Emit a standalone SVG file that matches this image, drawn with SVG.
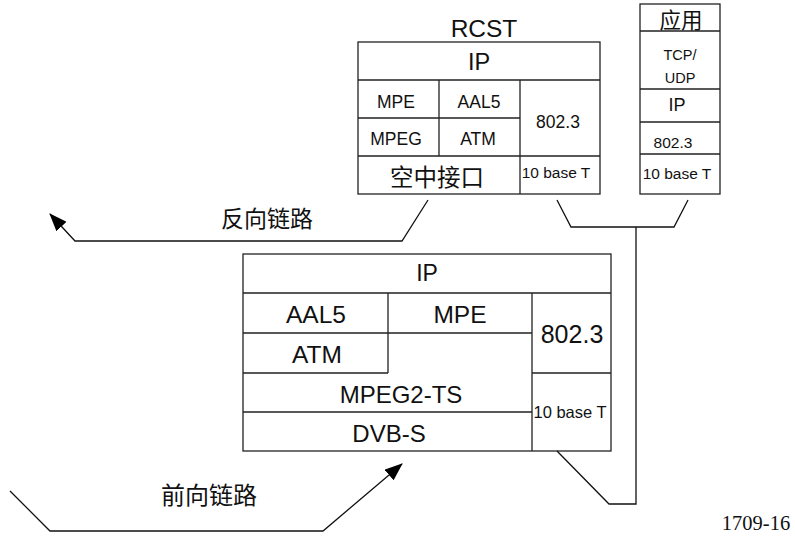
<svg xmlns="http://www.w3.org/2000/svg" width="795" height="538" viewBox="0 0 795 538">
<defs>
<style>
.b{fill:#fff;stroke:#222;stroke-width:1.3}
.l{fill:none;stroke:#222;stroke-width:1.3}
.c{fill:none;stroke:#111;stroke-width:1.3}
text{font-family:"Liberation Sans",Arial,sans-serif;fill:#111;text-anchor:middle;dominant-baseline:central}
.cjk{font-family:"Noto Sans CJK SC",sans-serif}
.ser{font-family:"Liberation Serif","Times New Roman",serif}
</style>
<marker id="ah" viewBox="0 0 18 14" refX="17" refY="7" markerWidth="18" markerHeight="14" markerUnits="userSpaceOnUse" orient="auto">
<path d="M0,0 L18,7 L0,14 z" fill="#000"/>
</marker>
</defs>
<rect width="795" height="538" fill="#fff"/>

<g id="rcst">
<text x="484" y="28" font-size="24.5">RCST</text>
<rect class="b" x="358" y="42" width="242" height="152"/>
<path class="l" d="M358,80 H600 M358,118 H520 M358,156 H600 M439,80 V156 M520,80 V194"/>
<text x="479" y="62" font-size="23.5">IP</text>
<text x="396" y="102" font-size="17.5">MPE</text>
<text x="479" y="102" font-size="17.5">AAL5</text>
<text x="396" y="139" font-size="17.5">MPEG</text>
<text x="478" y="139" font-size="17.5">ATM</text>
<text x="558" y="122" font-size="17.5">802.3</text>
<text x="437" y="176" font-size="23.5" class="cjk">空中接口</text>
<text x="556" y="172" font-size="15.5">10 base T</text>
</g>

<g id="app">
<rect class="b" x="640" y="4" width="80" height="190"/>
<path class="l" d="M640,31 H720 M640,89 H720 M640,122 H720 M640,154 H720"/>
<text x="681" y="18" font-size="21.5" class="cjk">应用</text>
<text x="680" y="55" font-size="14.5">TCP/</text>
<text x="680" y="78" font-size="14.5">UDP</text>
<text x="677" y="105" font-size="18">IP</text>
<text x="673" y="142" font-size="15.5">802.3</text>
<text x="677" y="173" font-size="15.5">10 base T</text>
</g>

<g id="hub">
<rect class="b" x="243" y="254" width="368" height="197"/>
<path class="l" d="M243,293 H611 M243,333 H532 M243,373 H388 M532,373 H611 M243,412 H532 M532,293 V451 M388,293 V373"/>
<text x="427" y="273" font-size="23">IP</text>
<text x="316" y="314" font-size="24.5">AAL5</text>
<text x="460" y="314" font-size="24.5">MPE</text>
<text x="317" y="354" font-size="24.5">ATM</text>
<text x="572" y="334" font-size="25">802.3</text>
<text x="401" y="394" font-size="24">MPEG2-TS</text>
<text x="389" y="433" font-size="24">DVB-S</text>
<text x="570" y="412" font-size="16.5">10 base T</text>
</g>

<g id="connectors">
<polyline class="c" points="428,200 402,241 75,241 50,214" marker-end="url(#ah)"/>
<polyline class="c" points="10,491 50,531 323,531 402,464" marker-end="url(#ah)"/>
<polyline class="c" points="557,200 571,227 674,227 688,200"/>
<polyline class="c" points="557,451 609,504 636,504 636,227"/>
</g>

<g id="labels">
<text x="267" y="217" font-size="23" class="cjk">反向链路</text>
<text x="209" y="493" font-size="24" class="cjk">前向链路</text>
<text x="756" y="523" font-size="20.5" class="ser">1709-16</text>
</g>
</svg>
